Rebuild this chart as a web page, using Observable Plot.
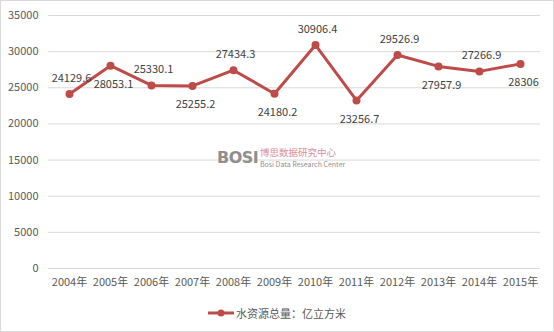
<!DOCTYPE html>
<html><head><meta charset="utf-8">
<script src="https://cdn.jsdelivr.net/npm/d3@7"></script>
<script src="https://cdn.jsdelivr.net/npm/@observablehq/plot@0.6"></script>
<style>
body{margin:0;background:#fff;}
#wrap{position:relative;width:552px;height:330px;border:1px solid #d9d9d9;background:#fff;font-family:"Noto Sans CJK SC","Noto Sans",sans-serif;}
#wm{position:absolute;left:216px;top:146px;width:140px;height:30px;}
#legend{position:absolute;left:0;top:302px;width:552px;text-align:center;font-size:11px;color:#595959;}
</style></head>
<body><div id="wrap"><div id="chart"></div>
<div id="wm">
  <span style="position:absolute;left:0;top:3px;font:bold 16px 'DejaVu Sans',sans-serif;line-height:16px;color:#8f8f8f;letter-spacing:-0.5px;">BOSI</span>
  <span style="position:absolute;left:43px;top:0px;font-size:9.5px;line-height:11px;color:#dc8d99;">博思数据研究中心</span>
  <span style="position:absolute;left:43px;top:13px;font-size:7px;line-height:8px;color:#8f8f8f;">Bosi Data Research Center</span>
</div>
<div id="legend"></div>
</div>
<script>
const years = ["2004年","2005年","2006年","2007年","2008年","2009年","2010年","2011年","2012年","2013年","2014年","2015年"];
const values = [24129.6,28053.1,25330.1,25255.2,27434.3,24180.2,30906.4,23256.7,29526.9,27957.9,27266.9,28306];
const yTicks = [0,5000,10000,15000,20000,25000,30000,35000];
const seriesName = "水资源总量：亿立方米";

const color = "#BE4B48";
const data = years.map((y,i)=>({year:y, value:values[i], i}));
const font = "'Noto Sans CJK SC','Noto Sans',sans-serif";

const chart = Plot.plot({
  width: 552, height: 296,
  marginTop: 14, marginBottom: 29, marginLeft: 47, marginRight: 13,
  style: {fontFamily: font, fontSize: "11px", color: "#595959", background: "transparent"},
  x: {type: "point", domain: years, padding: 0.5, label: null},
  y: {domain: [0,35000], label: null},
  marks: [
    Plot.ruleY(yTicks, {stroke: "#d9d9d9", strokeWidth: 1}),
    Plot.axisY({ticks: yTicks, tickSize: 0, tickPadding: 10, tickFormat: d=>String(d), fill:"#595959"}),
    Plot.axisX({tickSize: 0, tickPadding: 10, fill:"#595959"}),
    Plot.line(data, {x:"year", y:"value", stroke: color, strokeWidth: 3}),
    Plot.dot(data, {x:"year", y:"value", r: 4, fill: color, stroke: "none"}),
    Plot.text(data, {filter: d=>d.i%2===0, x:"year", y:"value", text: d=>String(d.value), dy:-16, dx:2, fill:"#404040", fontSize: 11}),
    Plot.text(data, {filter: d=>d.i%2===1, x:"year", y:"value", text: d=>String(d.value), dy:19, dx:3, fill:"#404040", fontSize: 11})
  ]
});
document.getElementById("chart").appendChild(chart);

document.getElementById("legend").innerHTML =
  `<svg width="26" height="10" style="vertical-align:middle"><line x1="0" y1="5" x2="26" y2="5" stroke="${color}" stroke-width="3"/><circle cx="13" cy="5" r="3.5" fill="${color}"/></svg><span style="vertical-align:middle;margin-left:2px">${seriesName}</span>`;
</script>
</body></html>
